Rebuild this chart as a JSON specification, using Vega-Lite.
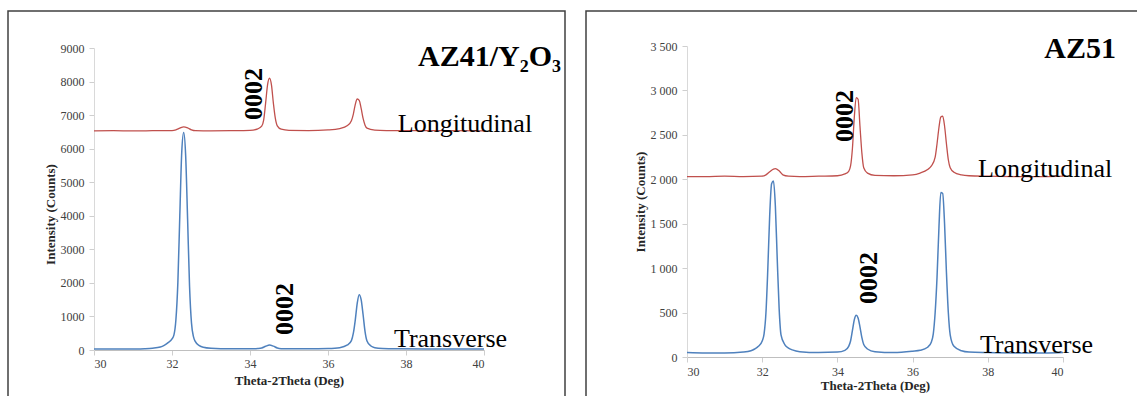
{
  "$schema": "https://vega.github.io/schema/vega-lite/v6.json",
  "background": "white",
  "padding": {"left": 7, "top": 10, "right": 0, "bottom": 0},
  "bounds": "flush",
  "spacing": 21,
  "config": {
    "view": {"stroke": "#404040", "strokeWidth": 1.5},
    "axis": {
      "labelFont": "Liberation Serif", "labelFontSize": 12, "labelColor": "#404040",
      "titleFont": "Liberation Serif", "titleFontSize": 13, "titleFontWeight": "bold", "titleColor": "#262626",
      "grid": false, "domainColor": "#cfcfcf", "tickColor": "#cfcfcf", "tickSize": 5
    },
    "style": {
      "guide-label": {"font": "Liberation Serif"},
      "guide-title": {"font": "Liberation Serif"}
    },
    "text": {"font": "Liberation Serif", "color": "black"}
  },
  "datasets": {
    "az41": [
      {"x": 30.0, "y": 6530, "series": "Longitudinal"},
      {"x": 30.5, "y": 6535, "series": "Longitudinal"},
      {"x": 31.0, "y": 6530, "series": "Longitudinal"},
      {"x": 31.5, "y": 6535, "series": "Longitudinal"},
      {"x": 32.0, "y": 6540, "series": "Longitudinal"},
      {"x": 32.1, "y": 6560, "series": "Longitudinal"},
      {"x": 32.2, "y": 6610, "series": "Longitudinal"},
      {"x": 32.3, "y": 6650, "series": "Longitudinal"},
      {"x": 32.4, "y": 6620, "series": "Longitudinal"},
      {"x": 32.5, "y": 6560, "series": "Longitudinal"},
      {"x": 32.6, "y": 6535, "series": "Longitudinal"},
      {"x": 33.0, "y": 6530, "series": "Longitudinal"},
      {"x": 33.5, "y": 6535, "series": "Longitudinal"},
      {"x": 34.0, "y": 6545, "series": "Longitudinal"},
      {"x": 34.2, "y": 6590, "series": "Longitudinal"},
      {"x": 34.3, "y": 6670, "series": "Longitudinal"},
      {"x": 34.35, "y": 6850, "series": "Longitudinal"},
      {"x": 34.4, "y": 7350, "series": "Longitudinal"},
      {"x": 34.45, "y": 7900, "series": "Longitudinal"},
      {"x": 34.5, "y": 8100, "series": "Longitudinal"},
      {"x": 34.55, "y": 7900, "series": "Longitudinal"},
      {"x": 34.6, "y": 7350, "series": "Longitudinal"},
      {"x": 34.65, "y": 6900, "series": "Longitudinal"},
      {"x": 34.7, "y": 6680, "series": "Longitudinal"},
      {"x": 34.8, "y": 6580, "series": "Longitudinal"},
      {"x": 35.0, "y": 6545, "series": "Longitudinal"},
      {"x": 35.5, "y": 6540, "series": "Longitudinal"},
      {"x": 36.0, "y": 6560, "series": "Longitudinal"},
      {"x": 36.3, "y": 6600, "series": "Longitudinal"},
      {"x": 36.5, "y": 6690, "series": "Longitudinal"},
      {"x": 36.6, "y": 6830, "series": "Longitudinal"},
      {"x": 36.65, "y": 7030, "series": "Longitudinal"},
      {"x": 36.7, "y": 7320, "series": "Longitudinal"},
      {"x": 36.75, "y": 7480, "series": "Longitudinal"},
      {"x": 36.8, "y": 7440, "series": "Longitudinal"},
      {"x": 36.85, "y": 7200, "series": "Longitudinal"},
      {"x": 36.9, "y": 6900, "series": "Longitudinal"},
      {"x": 36.95, "y": 6700, "series": "Longitudinal"},
      {"x": 37.0, "y": 6610, "series": "Longitudinal"},
      {"x": 37.2, "y": 6555, "series": "Longitudinal"},
      {"x": 37.5, "y": 6540, "series": "Longitudinal"},
      {"x": 38.0, "y": 6535, "series": "Longitudinal"},
      {"x": 39.0, "y": 6535, "series": "Longitudinal"},
      {"x": 40.0, "y": 6530, "series": "Longitudinal"},
      {"x": 30.0, "y": 30, "series": "Transverse"},
      {"x": 30.5, "y": 28, "series": "Transverse"},
      {"x": 31.0, "y": 32, "series": "Transverse"},
      {"x": 31.3, "y": 40, "series": "Transverse"},
      {"x": 31.5, "y": 55, "series": "Transverse"},
      {"x": 31.7, "y": 90, "series": "Transverse"},
      {"x": 31.8, "y": 140, "series": "Transverse"},
      {"x": 31.9, "y": 220, "series": "Transverse"},
      {"x": 32.0, "y": 330, "series": "Transverse"},
      {"x": 32.05, "y": 450, "series": "Transverse"},
      {"x": 32.1, "y": 900, "series": "Transverse"},
      {"x": 32.15, "y": 2000, "series": "Transverse"},
      {"x": 32.2, "y": 4000, "series": "Transverse"},
      {"x": 32.25, "y": 5900, "series": "Transverse"},
      {"x": 32.3, "y": 6480, "series": "Transverse"},
      {"x": 32.35, "y": 5800, "series": "Transverse"},
      {"x": 32.4, "y": 3900, "series": "Transverse"},
      {"x": 32.45, "y": 1900, "series": "Transverse"},
      {"x": 32.5, "y": 800, "series": "Transverse"},
      {"x": 32.55, "y": 400, "series": "Transverse"},
      {"x": 32.6, "y": 250, "series": "Transverse"},
      {"x": 32.7, "y": 130, "series": "Transverse"},
      {"x": 32.8, "y": 80, "series": "Transverse"},
      {"x": 33.0, "y": 50, "series": "Transverse"},
      {"x": 33.5, "y": 35, "series": "Transverse"},
      {"x": 34.0, "y": 35, "series": "Transverse"},
      {"x": 34.2, "y": 45, "series": "Transverse"},
      {"x": 34.3, "y": 60, "series": "Transverse"},
      {"x": 34.4, "y": 110, "series": "Transverse"},
      {"x": 34.5, "y": 150, "series": "Transverse"},
      {"x": 34.6, "y": 115, "series": "Transverse"},
      {"x": 34.7, "y": 60, "series": "Transverse"},
      {"x": 34.8, "y": 40, "series": "Transverse"},
      {"x": 35.0, "y": 35, "series": "Transverse"},
      {"x": 35.5, "y": 35, "series": "Transverse"},
      {"x": 36.0, "y": 45, "series": "Transverse"},
      {"x": 36.3, "y": 70, "series": "Transverse"},
      {"x": 36.5, "y": 150, "series": "Transverse"},
      {"x": 36.6, "y": 280, "series": "Transverse"},
      {"x": 36.65, "y": 500, "series": "Transverse"},
      {"x": 36.7, "y": 900, "series": "Transverse"},
      {"x": 36.75, "y": 1400, "series": "Transverse"},
      {"x": 36.8, "y": 1650, "series": "Transverse"},
      {"x": 36.85, "y": 1500, "series": "Transverse"},
      {"x": 36.9, "y": 1050, "series": "Transverse"},
      {"x": 36.95, "y": 550, "series": "Transverse"},
      {"x": 37.0, "y": 270, "series": "Transverse"},
      {"x": 37.1, "y": 120, "series": "Transverse"},
      {"x": 37.2, "y": 70, "series": "Transverse"},
      {"x": 37.4, "y": 45, "series": "Transverse"},
      {"x": 37.8, "y": 35, "series": "Transverse"},
      {"x": 38.5, "y": 30, "series": "Transverse"},
      {"x": 39.0, "y": 30, "series": "Transverse"},
      {"x": 39.5, "y": 28, "series": "Transverse"},
      {"x": 40.0, "y": 30, "series": "Transverse"}
    ],
    "az51": [
      {"x": 30.0, "y": 2030, "series": "Longitudinal"},
      {"x": 30.5, "y": 2030, "series": "Longitudinal"},
      {"x": 31.0, "y": 2035, "series": "Longitudinal"},
      {"x": 31.5, "y": 2030, "series": "Longitudinal"},
      {"x": 32.0, "y": 2035, "series": "Longitudinal"},
      {"x": 32.1, "y": 2050, "series": "Longitudinal"},
      {"x": 32.2, "y": 2085, "series": "Longitudinal"},
      {"x": 32.3, "y": 2115, "series": "Longitudinal"},
      {"x": 32.35, "y": 2120, "series": "Longitudinal"},
      {"x": 32.45, "y": 2095, "series": "Longitudinal"},
      {"x": 32.55, "y": 2050, "series": "Longitudinal"},
      {"x": 32.7, "y": 2035, "series": "Longitudinal"},
      {"x": 33.0, "y": 2030, "series": "Longitudinal"},
      {"x": 33.5, "y": 2035, "series": "Longitudinal"},
      {"x": 34.0, "y": 2040, "series": "Longitudinal"},
      {"x": 34.2, "y": 2060, "series": "Longitudinal"},
      {"x": 34.3, "y": 2090, "series": "Longitudinal"},
      {"x": 34.35, "y": 2150, "series": "Longitudinal"},
      {"x": 34.4, "y": 2350, "series": "Longitudinal"},
      {"x": 34.45, "y": 2700, "series": "Longitudinal"},
      {"x": 34.5, "y": 2920, "series": "Longitudinal"},
      {"x": 34.55, "y": 2900, "series": "Longitudinal"},
      {"x": 34.6, "y": 2600, "series": "Longitudinal"},
      {"x": 34.65, "y": 2300, "series": "Longitudinal"},
      {"x": 34.7, "y": 2130, "series": "Longitudinal"},
      {"x": 34.8, "y": 2070, "series": "Longitudinal"},
      {"x": 35.0, "y": 2045, "series": "Longitudinal"},
      {"x": 35.5, "y": 2040, "series": "Longitudinal"},
      {"x": 36.0, "y": 2050, "series": "Longitudinal"},
      {"x": 36.2, "y": 2070, "series": "Longitudinal"},
      {"x": 36.4, "y": 2110, "series": "Longitudinal"},
      {"x": 36.5, "y": 2150, "series": "Longitudinal"},
      {"x": 36.6, "y": 2250, "series": "Longitudinal"},
      {"x": 36.65, "y": 2400, "series": "Longitudinal"},
      {"x": 36.7, "y": 2580, "series": "Longitudinal"},
      {"x": 36.75, "y": 2700, "series": "Longitudinal"},
      {"x": 36.8, "y": 2710, "series": "Longitudinal"},
      {"x": 36.85, "y": 2600, "series": "Longitudinal"},
      {"x": 36.9, "y": 2400, "series": "Longitudinal"},
      {"x": 36.95, "y": 2220, "series": "Longitudinal"},
      {"x": 37.0, "y": 2130, "series": "Longitudinal"},
      {"x": 37.1, "y": 2080, "series": "Longitudinal"},
      {"x": 37.3, "y": 2050, "series": "Longitudinal"},
      {"x": 37.5, "y": 2040, "series": "Longitudinal"},
      {"x": 38.0, "y": 2035, "series": "Longitudinal"},
      {"x": 39.0, "y": 2030, "series": "Longitudinal"},
      {"x": 39.5, "y": 2030, "series": "Longitudinal"},
      {"x": 40.0, "y": 2035, "series": "Longitudinal"},
      {"x": 30.0, "y": 50, "series": "Transverse"},
      {"x": 30.5, "y": 45, "series": "Transverse"},
      {"x": 31.0, "y": 45, "series": "Transverse"},
      {"x": 31.5, "y": 55, "series": "Transverse"},
      {"x": 31.7, "y": 70, "series": "Transverse"},
      {"x": 31.8, "y": 90, "series": "Transverse"},
      {"x": 31.9, "y": 120, "series": "Transverse"},
      {"x": 32.0, "y": 180, "series": "Transverse"},
      {"x": 32.05, "y": 260, "series": "Transverse"},
      {"x": 32.1, "y": 500, "series": "Transverse"},
      {"x": 32.15, "y": 1000, "series": "Transverse"},
      {"x": 32.2, "y": 1600, "series": "Transverse"},
      {"x": 32.25, "y": 1950, "series": "Transverse"},
      {"x": 32.3, "y": 1980, "series": "Transverse"},
      {"x": 32.35, "y": 1700, "series": "Transverse"},
      {"x": 32.4, "y": 1100, "series": "Transverse"},
      {"x": 32.45, "y": 550, "series": "Transverse"},
      {"x": 32.5, "y": 250, "series": "Transverse"},
      {"x": 32.6, "y": 140, "series": "Transverse"},
      {"x": 32.7, "y": 100, "series": "Transverse"},
      {"x": 32.8, "y": 80, "series": "Transverse"},
      {"x": 33.0, "y": 60, "series": "Transverse"},
      {"x": 33.5, "y": 50, "series": "Transverse"},
      {"x": 34.0, "y": 55, "series": "Transverse"},
      {"x": 34.2, "y": 75, "series": "Transverse"},
      {"x": 34.3, "y": 120, "series": "Transverse"},
      {"x": 34.35, "y": 180, "series": "Transverse"},
      {"x": 34.4, "y": 300, "series": "Transverse"},
      {"x": 34.45, "y": 420, "series": "Transverse"},
      {"x": 34.5, "y": 470, "series": "Transverse"},
      {"x": 34.55, "y": 440, "series": "Transverse"},
      {"x": 34.6, "y": 340, "series": "Transverse"},
      {"x": 34.65, "y": 220, "series": "Transverse"},
      {"x": 34.7, "y": 140, "series": "Transverse"},
      {"x": 34.8, "y": 90, "series": "Transverse"},
      {"x": 35.0, "y": 60, "series": "Transverse"},
      {"x": 35.5, "y": 50, "series": "Transverse"},
      {"x": 36.0, "y": 65, "series": "Transverse"},
      {"x": 36.2, "y": 75, "series": "Transverse"},
      {"x": 36.4, "y": 110, "series": "Transverse"},
      {"x": 36.5, "y": 170, "series": "Transverse"},
      {"x": 36.55, "y": 260, "series": "Transverse"},
      {"x": 36.6, "y": 500, "series": "Transverse"},
      {"x": 36.65, "y": 900, "series": "Transverse"},
      {"x": 36.7, "y": 1450, "series": "Transverse"},
      {"x": 36.75, "y": 1850, "series": "Transverse"},
      {"x": 36.8, "y": 1840, "series": "Transverse"},
      {"x": 36.85, "y": 1500, "series": "Transverse"},
      {"x": 36.9, "y": 950, "series": "Transverse"},
      {"x": 36.95, "y": 500, "series": "Transverse"},
      {"x": 37.0, "y": 250, "series": "Transverse"},
      {"x": 37.1, "y": 120, "series": "Transverse"},
      {"x": 37.3, "y": 70, "series": "Transverse"},
      {"x": 37.5, "y": 55, "series": "Transverse"},
      {"x": 38.0, "y": 50, "series": "Transverse"},
      {"x": 39.0, "y": 45, "series": "Transverse"},
      {"x": 39.5, "y": 45, "series": "Transverse"},
      {"x": 40.0, "y": 50, "series": "Transverse"}
    ],
    "az41Labels": [
      {"x": 34.1, "y": 7629, "text": "0002", "kind": "peak"},
      {"x": 34.9, "y": 1222, "text": "0002", "kind": "peak"},
      {"x": 37.79, "y": 6497, "text": "Longitudinal", "kind": "series"},
      {"x": 37.69, "y": 89, "text": "Transverse", "kind": "series"}
    ],
    "az51Labels": [
      {"x": 34.2, "y": 2712, "text": "0002", "kind": "peak"},
      {"x": 34.84, "y": 889, "text": "0002", "kind": "peak"},
      {"x": 37.74, "y": 2026, "text": "Longitudinal", "kind": "series"},
      {"x": 37.79, "y": 45, "text": "Transverse", "kind": "series"}
    ]
  },
  "hconcat": [
    {
      "width": 557,
      "height": 400,
      "title": {
        "text": "AZ41/Y₂O₃", "anchor": "end", "frame": "group", "orient": "top",
        "font": "Liberation Serif", "fontSize": 30, "fontWeight": "bold", "color": "black",
        "baseline": "alphabetic", "offset": 0, "dy": 85, "dx": -4
      },
      "encoding": {
        "x": {
          "field": "x", "type": "quantitative",
          "scale": {"domain": [30, 40], "range": [86, 476], "nice": false, "zero": false},
          "axis": {"orient": "bottom", "offset": -61, "values": [30, 32, 34, 36, 38, 40], "title": "Theta-2Theta (Deg)",
                   "labelFont": "Liberation Serif", "titleFont": "Liberation Serif",
                   "labelPadding": 3, "titlePadding": 5, "domainColor": "#bfbfbf"}
        },
        "y": {
          "field": "y", "type": "quantitative",
          "scale": {"domain": [0, 9000], "range": [339, 37], "nice": false},
          "axis": {"offset": -86, "values": [0, 1000, 2000, 3000, 4000, 5000, 6000, 7000, 8000, 9000], "format": "d",
                   "labelFont": "Liberation Serif", "titleFont": "Liberation Serif",
                   "title": "Intensity (Counts)", "labelPadding": 5, "titlePadding": 3, "titleY": 203, "domainColor": "#d9d9d9"}
        }
      },
      "layer": [
        {
          "data": {"name": "az41"},
          "mark": {"type": "line", "interpolate": "monotone"},
          "encoding": {
            "detail": {"field": "series"},
            "color": {"field": "series", "type": "nominal", "scale": {"domain": ["Longitudinal", "Transverse"], "range": ["#c0504d", "#4f81bd"]}, "legend": null},
            "strokeWidth": {"field": "series", "type": "nominal", "scale": {"domain": ["Longitudinal", "Transverse"], "range": [1.3, 1.5]}, "legend": null}
          }
        },
        {
          "data": {"name": "az41Labels"},
          "transform": [{"filter": "datum.kind === 'peak'"}],
          "mark": {"type": "text", "angle": 270, "align": "center", "baseline": "middle", "fontSize": 26, "fontWeight": "bold", "font": "Liberation Serif"},
          "encoding": {"text": {"field": "text"}}
        },
        {
          "data": {"name": "az41Labels"},
          "transform": [{"filter": "datum.kind === 'series'"}],
          "mark": {"type": "text", "align": "left", "baseline": "alphabetic", "fontSize": 26, "font": "Liberation Serif"},
          "encoding": {"text": {"field": "text"}}
        }
      ]
    },
    {
      "width": 560,
      "height": 400,
      "title": {
        "text": "AZ51", "anchor": "end", "frame": "group", "orient": "top",
        "font": "Liberation Serif", "fontSize": 30, "fontWeight": "bold", "color": "black",
        "baseline": "alphabetic", "offset": 0, "dy": 77, "dx": -30
      },
      "encoding": {
        "x": {
          "field": "x", "type": "quantitative",
          "scale": {"domain": [30, 40], "range": [101, 477], "nice": false, "zero": false},
          "axis": {"orient": "bottom", "offset": -54, "values": [30, 32, 34, 36, 38, 40], "title": "Theta-2Theta (Deg)",
                   "labelFont": "Liberation Serif", "titleFont": "Liberation Serif",
                   "labelPadding": 4, "titlePadding": 2, "domainColor": "#bfbfbf"}
        },
        "y": {
          "field": "y", "type": "quantitative",
          "scale": {"domain": [0, 3500], "range": [346, 35], "nice": false},
          "axis": {"offset": -101, "values": [0, 500, 1000, 1500, 2000, 2500, 3000, 3500],
                   "labelExpr": "replace(format(datum.value, ','), ',', ' ')",
                   "labelFont": "Liberation Serif", "titleFont": "Liberation Serif",
                   "title": "Intensity (Counts)", "labelPadding": 5, "titlePadding": 3, "domainColor": "#d9d9d9"}
        }
      },
      "layer": [
        {
          "data": {"name": "az51"},
          "mark": {"type": "line", "interpolate": "monotone"},
          "encoding": {
            "detail": {"field": "series"},
            "color": {"field": "series", "type": "nominal", "scale": {"domain": ["Longitudinal", "Transverse"], "range": ["#c0504d", "#4f81bd"]}, "legend": null},
            "strokeWidth": {"field": "series", "type": "nominal", "scale": {"domain": ["Longitudinal", "Transverse"], "range": [1.3, 1.5]}, "legend": null}
          }
        },
        {
          "data": {"name": "az51Labels"},
          "transform": [{"filter": "datum.kind === 'peak'"}],
          "mark": {"type": "text", "angle": 270, "align": "center", "baseline": "middle", "fontSize": 26, "fontWeight": "bold", "font": "Liberation Serif"},
          "encoding": {"text": {"field": "text"}}
        },
        {
          "data": {"name": "az51Labels"},
          "transform": [{"filter": "datum.kind === 'series'"}],
          "mark": {"type": "text", "align": "left", "baseline": "alphabetic", "fontSize": 26, "font": "Liberation Serif"},
          "encoding": {"text": {"field": "text"}}
        }
      ]
    }
  ]
}
